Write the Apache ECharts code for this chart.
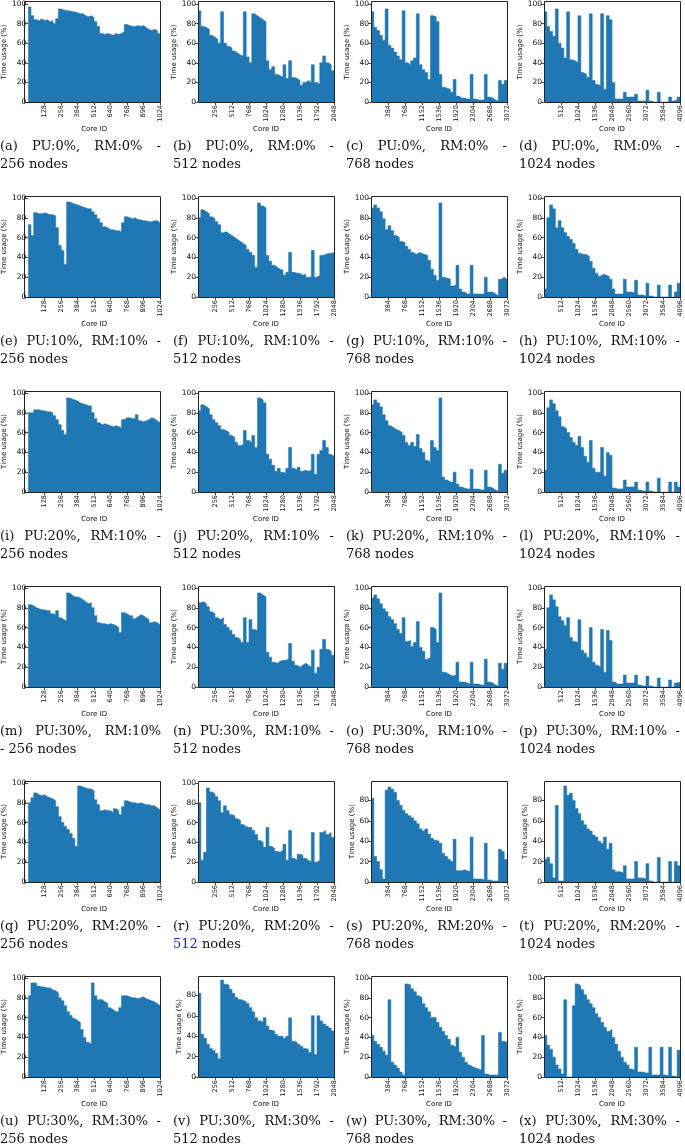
<!DOCTYPE html>
<html>
<head>
<meta charset="utf-8">
<script src="https://cdn.jsdelivr.net/npm/echarts@6/dist/echarts.min.js"></script>
<style>
html, body { margin: 0; padding: 0; background: #fff; }
#chart { width: 685px; height: 1147px; }
</style>
</head>
<body>
<div id="chart"></div>
<script>
// time usage (%) per core, 48 equal bins across the cores of each panel
var a = [97,88,84,83,85,83,84,82,83,80, 85,95,94,93,93,92,92,91,90,90, 88,87,88,86,82,77,70,69,70,69, 68,70,69,70,72,79,78,77,77,78, 77,78,76,74,73,74,73,70];
var b = [93,77,76,74,68,66,64,60,92,60, 57,55,52,50,48,47,92,46,40,90, 88,86,84,82,42,33,36,28,27,25, 38,24,42,25,24,22,17,20,22,20, 38,20,18,40,47,40,38,32];
var c = [92,76,73,68,63,95,58,55,51,47, 43,93,40,38,42,45,90,38,33,30, 23,88,87,82,28,15,14,13,10,23, 6,4,4,3,3,28,3,2,2,2, 28,5,4,2,1,22,18,22];
var d = [92,77,72,67,95,60,55,45,92,43, 42,40,88,30,28,25,90,22,18,16, 90,13,88,84,20,3,3,3,10,5, 5,5,8,1,1,1,12,1,0,0, 10,0,0,0,5,1,2,5];
var e = [73,62,85,84,84,85,84,83,83,82, 70,52,47,33,96,95,94,93,92,91, 90,89,89,86,83,79,75,71,70,68, 68,67,67,66,75,81,80,79,80,78, 78,77,77,76,76,77,77,75];
var f = [80,88,86,84,81,79,76,73,65,66, 64,62,60,58,56,54,52,48,45,42, 30,95,92,90,42,36,32,30,28,27, 22,25,45,25,24,24,22,23,20,20, 47,20,22,42,43,44,44,45];
var g = [90,93,90,86,79,68,72,67,62,60, 56,55,51,48,45,43,45,44,43,42, 37,28,22,17,95,20,19,18,11,12, 32,8,5,3,3,32,3,3,3,3, 20,5,5,3,1,18,20,18];
var h = [8,80,93,89,70,77,70,65,61,58, 54,48,44,43,43,41,36,29,24,21, 23,22,21,18,8,3,3,3,18,5, 5,4,17,2,2,1,14,1,0,0, 12,0,0,0,12,0,5,14];
var i_ = [80,80,83,83,82,82,81,81,80,77, 73,68,62,58,95,94,93,92,90,89, 88,87,87,80,74,70,68,69,68,67, 66,67,66,65,73,75,75,74,74,78, 72,71,72,73,75,74,72,70];
var j = [82,88,86,84,78,73,70,67,63,62, 60,57,55,50,47,48,62,52,50,57, 45,95,93,90,38,33,27,21,24,20, 19,24,45,24,22,25,21,22,21,22, 38,18,38,42,52,45,38,36];
var k = [88,93,90,86,78,72,67,65,63,62, 60,57,50,47,50,46,58,44,40,32, 30,52,45,42,95,15,12,10,10,20, 8,5,4,3,3,23,3,3,2,2, 22,5,4,2,1,28,19,22];
var l = [22,85,93,89,82,76,66,64,60,55, 50,47,56,45,36,30,52,24,20,20, 45,16,40,37,4,3,3,3,12,5, 5,5,10,2,1,1,10,1,0,0, 14,0,0,0,10,0,10,5];
var m = [83,82,80,79,78,78,77,77,74,73, 77,70,68,67,95,93,91,91,90,88, 86,84,85,80,72,65,64,64,63,64, 63,62,60,55,75,74,72,72,69,71, 73,72,70,68,65,66,65,63];
var n = [85,86,84,81,76,74,70,68,70,63, 60,57,53,50,48,45,70,45,68,58, 57,95,93,91,35,30,25,24,26,27, 27,28,44,26,22,20,22,24,22,20, 37,14,20,38,48,38,36,32];
var o = [90,93,89,84,79,76,71,68,64,58, 54,70,46,47,41,45,66,40,36,28, 30,60,58,45,95,15,14,12,11,12, 25,5,5,4,3,25,3,3,2,2, 28,5,4,2,1,24,18,24];
var p = [38,80,93,88,81,71,67,62,70,50, 46,45,68,37,34,30,60,25,22,20, 58,15,57,47,5,3,3,3,12,4, 4,4,12,2,1,1,11,1,0,0, 9,0,0,0,7,0,4,5];
var q = [80,85,90,88,87,88,86,85,84,82, 76,66,60,56,53,49,44,36,97,96, 95,94,94,92,83,78,72,73,72,72, 70,74,72,68,76,82,81,80,80,79, 80,79,78,78,77,77,75,73];
var r = [80,22,30,95,91,89,86,82,70,77, 72,68,67,64,62,58,56,55,55,52, 48,42,40,35,55,36,34,31,30,32, 38,22,52,24,22,28,27,24,22,20, 50,20,22,50,52,48,50,45];
var s = [82,25,20,12,3,90,93,91,88,80, 75,70,67,65,63,60,57,52,50,52, 47,43,41,40,38,28,25,22,20,42, 11,11,12,11,10,44,3,3,3,2, 38,2,1,1,1,32,30,22];
var t = [22,24,18,4,75,1,1,94,85,87, 80,72,67,60,56,52,50,46,44,40, 38,44,32,38,12,10,10,9,16,3, 3,3,20,4,4,3,18,1,0,0, 24,0,0,0,20,0,20,16];
var u = [82,95,95,92,91,91,90,90,88,87, 85,80,77,72,66,62,59,57,55,48, 40,35,33,95,82,78,78,76,74,70, 68,66,66,70,82,82,81,80,80,79, 80,81,79,78,77,76,74,72];
var v = [82,42,38,32,28,26,23,18,95,91, 90,86,82,78,76,75,74,72,68,64, 58,55,54,58,50,46,45,42,40,40, 38,40,58,35,34,32,30,28,27,24, 60,22,60,55,52,50,48,45];
var w = [42,36,33,30,26,22,78,15,12,9, 5,2,94,93,89,86,82,80,74,70, 66,60,60,55,50,46,42,38,32,30, 40,25,20,15,12,10,9,8,7,42, 3,2,2,2,2,45,36,35];
var x = [42,32,28,20,12,8,3,78,0,0, 72,94,92,88,83,78,74,70,64,60, 55,50,46,48,40,33,26,20,15,12, 8,7,30,5,5,4,4,30,2,2, 2,30,2,1,30,1,0,27];

var panels = [a,b,c,d, e,f,g,h, i_,j,k,l, m,n,o,p, q,r,s,t, u,v,w,x];
var letters = ['a','b','c','d','e','f','g','h','i','j','k','l','m','n','o','p','q','r','s','t','u','v','w','x'];
var nodeCounts = [256, 512, 768, 1024];
var coresPerNode = 4;
var puLevels = ['0%', '10%', '20%', '30%', '20%', '30%'];
var rmLevels = ['0%', '10%', '10%', '10%', '20%', '30%'];
var yTicks = [0, 20, 40, 60, 80, 100];
var lowTopPanels = ['s', 't', 'v'];   // these stop just under 100
var dashOnSecondLine = ['m'];
var linkedPanels = ['r'];             // node count printed as a link

var colLeft = [24, 198, 371, 544];
var capLeft = [0, 173, 346, 519];
var capWidth = 161;
var plotW = 136, plotH = 101, rowPitch = 195, firstTop = 1;
var blue = '#1f77b4';
var capFont = '13px "DejaVu Serif"';

var myChart = echarts.init(document.getElementById('chart'), null, {renderer: 'canvas'});
var measure = document.createElement('canvas').getContext('2d');
measure.font = capFont;

var grids = [], xAxes = [], yAxes = [], series = [], graphics = [];

function plain(val) { return String(val); }

panels.forEach(function (vals, idx) {
    var row = Math.floor(idx / 4), col = idx % 4;
    var cores = nodeCounts[col] * coresPerNode;
    var top = firstTop + row * rowPitch;
    var left = colLeft[col];
    var yMax = lowTopPanels.indexOf(letters[idx]) >= 0 ? 99 : 102;
    var step = cores / vals.length;

    var xTicks = [];
    for (var q1 = 1; q1 <= 8; q1++) xTicks.push(q1 * cores / 8);

    grids.push({left: left, top: top, width: plotW, height: plotH});
    xAxes.push({
        gridIndex: idx, type: 'value', min: 0, max: cores,
        name: 'Core ID', nameLocation: 'middle', nameGap: 19,
        nameTextStyle: {fontSize: 7, color: '#111', fontFamily: 'DejaVu Sans'},
        axisLine: {show: false}, splitLine: {show: false},
        axisTick: {show: true, length: 3, customValues: xTicks, lineStyle: {color: '#222', width: 0.8}},
        axisLabel: {customValues: xTicks, formatter: plain, rotate: 90, fontSize: 6.5, margin: 3, color: '#111', fontFamily: 'DejaVu Sans'}
    });
    var yt = yTicks.filter(function (tk) { return tk <= yMax; });
    yAxes.push({
        gridIndex: idx, type: 'value', min: 0, max: yMax,
        name: 'Time usage (%)', nameLocation: 'middle', nameGap: 14,
        nameTextStyle: {fontSize: 7, color: '#111', fontFamily: 'DejaVu Sans'},
        axisLine: {show: false}, splitLine: {show: false},
        axisTick: {show: true, length: 3, customValues: yt, lineStyle: {color: '#222', width: 0.8}},
        axisLabel: {customValues: yt, formatter: plain, fontSize: 7.5, margin: 2, color: '#111', fontFamily: 'DejaVu Sans'}
    });

    var data = vals.map(function (val, b0) { return [b0 * step, val]; });
    data.push([cores, vals[vals.length - 1]]);
    series.push({
        type: 'line', xAxisIndex: idx, yAxisIndex: idx, step: 'end',
        symbol: 'none', silent: true, data: data,
        lineStyle: {width: 0.6, color: blue},
        areaStyle: {color: blue, opacity: 1}
    });

    // plot frame
    graphics.push({
        type: 'rect', z: 100, silent: true,
        shape: {x: left + 0.5, y: top + 0.5, width: plotW, height: plotH},
        style: {fill: null, stroke: '#222', lineWidth: 1}
    });

    // caption, first line justified
    var letter = letters[idx];
    var words = ['(' + letter + ')', 'PU:' + puLevels[row] + ',', 'RM:' + rmLevels[row]];
    var line2 = nodeCounts[col] + ' nodes';
    if (dashOnSecondLine.indexOf(letter) >= 0) line2 = '- ' + line2;
    else words.push('-');
    var widths = words.map(function (wd) { return measure.measureText(wd).width; });
    var total = widths.reduce(function (s1, s2) { return s1 + s2; }, 0);
    var gap = (capWidth - total) / (words.length - 1);
    var cx = capLeft[col];
    var zero = top + plotH;
    words.forEach(function (wd, wi) {
        graphics.push({
            type: 'text', silent: true,
            style: {x: cx, y: zero + 45, text: wd, font: capFont, fill: '#111', verticalAlign: 'middle'}
        });
        cx += widths[wi] + gap;
    });
    var linked = linkedPanels.indexOf(letter) >= 0;
    graphics.push({
        type: 'text', silent: true,
        style: {
            x: capLeft[col], y: zero + 63, font: capFont, fill: '#111', verticalAlign: 'middle',
            text: linked ? '{lk|' + nodeCounts[col] + '} nodes' : line2,
            rich: {lk: {fill: '#1a1aff', font: capFont}}
        }
    });
});

myChart.setOption({
    animation: false,
    backgroundColor: '#fff',
    grid: grids,
    xAxis: xAxes,
    yAxis: yAxes,
    series: series,
    graphic: graphics
});
</script>
</body>
</html>
